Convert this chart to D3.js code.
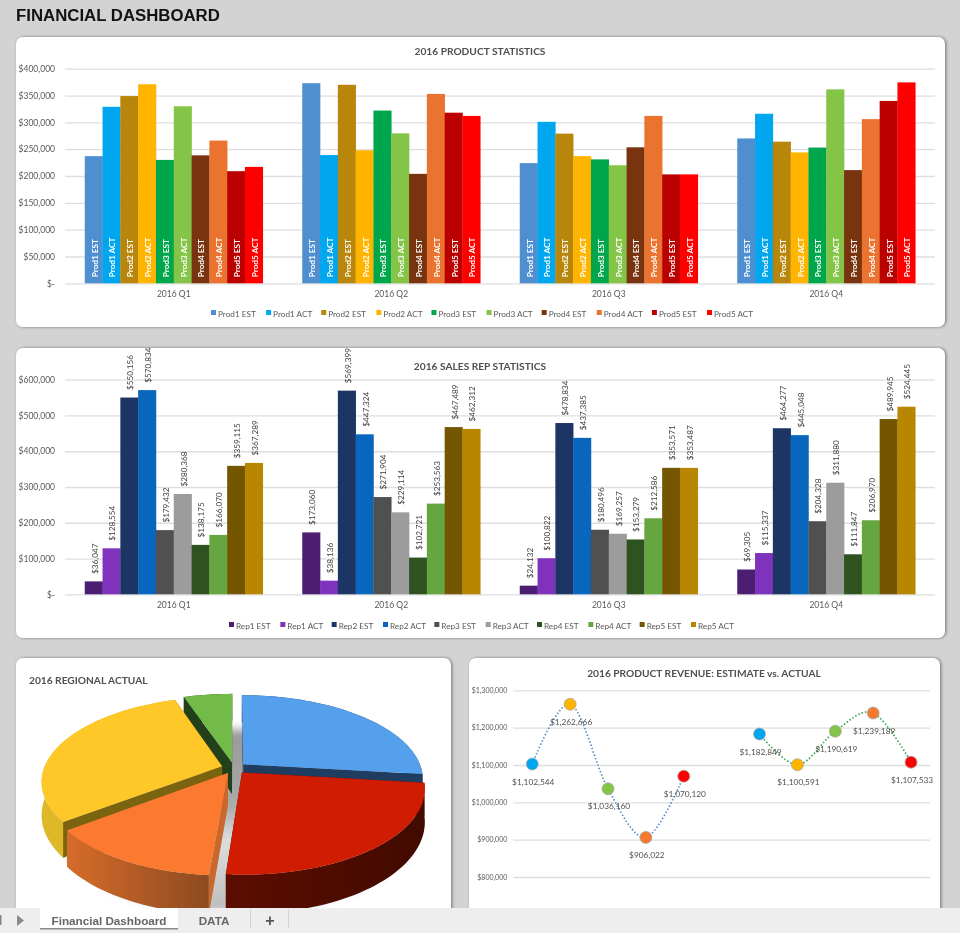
<!DOCTYPE html>
<html>
<head>
<meta charset="utf-8">
<script src="https://cdn.jsdelivr.net/npm/d3@7"></script>
<style>
html,body{margin:0;padding:0;background:#d3d3d3;overflow:hidden}
svg{display:block;filter:blur(.35px)}
text{font-family:Lato,"Open Sans",sans-serif}
.grid line{stroke:#dedede;stroke-width:1.3}
.grid text,.cats text{fill:#595959}
.cats text{font-size:8.5px}
.ttl{font-weight:700;fill:#505050;font-size:10.2px}
</style>
</head>
<body>
<svg id="dash" width="960" height="933"></svg>
<script>
var quarters = ["2016 Q1","2016 Q2","2016 Q3","2016 Q4"]

var prodSeries = ["Prod1 EST","Prod1 ACT","Prod2 EST","Prod2 ACT","Prod3 EST","Prod3 ACT","Prod4 EST","Prod4 ACT","Prod5 EST","Prod5 ACT"]
var prodColors = ["#4f8fd0","#00a6ee","#b8860b","#ffb500","#00a64b","#84c548","#78340f","#ea7330","#bb0000","#ff0000"]
var prodQ1 = [237000,329000,349000,371000,230000,330000,238500,266000,209000,217000]
var prodQ2 = [373000,239000,370000,248000,322000,279500,204000,353000,318000,312000]
var prodQ3 = [224000,301000,279000,237000,231000,220000,253500,312000,203000,203000]
var prodQ4 = [270000,316000,264000,244000,253000,361500,211000,306000,340000,374500]

var repSeries = ["Rep1 EST","Rep1 ACT","Rep2 EST","Rep2 ACT","Rep3 EST","Rep3 ACT","Rep4 EST","Rep4 ACT","Rep5 EST","Rep5 ACT"]
var repColors = ["#4b1e72","#7f33bd","#1c3564","#0866bd","#505050","#9c9c9c","#2f5320","#66a640","#755600","#b88600"]
var repQ1 = [36047,128554,550156,570834,179432,280368,138175,166070,359115,367289]
var repQ2 = [173060,38136,569399,447324,271904,229114,102721,253563,467489,462312]
var repQ3 = [24132,100822,478834,437385,180496,169257,153279,212586,353571,353487]
var repQ4 = [69305,115337,464277,445048,204328,311880,111847,206970,489945,524445]

var regionNames = ["Region 1","Region 2","Region 3","Region 4","Region 5"]
var regionShare = [26.9,24.4,13.3,30.2,5.2]
var regionTop = ["#55a0ec","#d01c00","#fb7a30","#fdc828","#72bb48"]
var regionWall = ["#1f3d60","#4a0c00","#c9682c","#7a6410","#22401a"]
var regionRim = ["#1f3d60","url(#rimRed)","url(#rimOrange)","#dfb828","#22401a"]

var revSlots = ["E1","E2","E3","E4","E5","gap","A1","A2","A3","A4","A5"]
var revEstimate = [1102544,1262666,1036160,906022,1070120]
var revActual = [1182849,1100591,1190619,1239189,1107533]
var revDotColors = ["#00a6ee","#ffb500","#84c548","#f5792f","#ff0000"]

var svg = d3.select("#dash")
var defs = svg.append("defs")

var f = defs.append("filter").attr("id","panelShadow").attr("x","-2%").attr("y","-2%").attr("width","104%").attr("height","104%")
f.append("feDropShadow").attr("dx",1.2).attr("dy",0).attr("stdDeviation",1.4).attr("flood-color","#777")
defs.append("filter").attr("id","pieBlur").attr("x","-10%").attr("y","-10%").attr("width","120%").attr("height","120%")
    .append("feGaussianBlur").attr("stdDeviation",4)

function rimGradient(id,from,to){
    var g = defs.append("linearGradient").attr("id",id)
    g.append("stop").attr("offset","0%").attr("stop-color",from)
    g.append("stop").attr("offset","100%").attr("stop-color",to)
}
rimGradient("rimRed","#5c0d00","#420a00")
rimGradient("rimOrange","#d66c2a","#8d4a20")

var shade = defs.append("linearGradient").attr("id","pieShade").attr("x1",0).attr("y1",0).attr("x2",0).attr("y2",1)
shade.append("stop").attr("offset","0%").attr("stop-color","#999")
shade.append("stop").attr("offset","42%").attr("stop-color","#aaa")
shade.append("stop").attr("offset","60%").attr("stop-color","#dedede")
shade.append("stop").attr("offset","100%").attr("stop-color","#bbb")

function panel(x,y,w,h){
    svg.append("rect").attr("x",x).attr("y",y).attr("width",w).attr("height",h)
        .attr("rx",7).attr("fill","#fff").attr("filter","url(#panelShadow)")
}

function money(v){
    return v == 0 ? "$-" : d3.format("$,")(v)
}

svg.append("text").attr("x",16).attr("y",21).text("FINANCIAL DASHBOARD")
    .style("font-family","'Liberation Sans',Arial,sans-serif").style("font-weight",700)
    .style("font-size","16.8px").attr("fill","#111")

panel(16,37,929,290)
panel(16,348,929,290)
panel(16,658,435,260)
panel(469,658,471,260)

function barChart(o){
    var left = 65, right = 935
    var y = d3.scaleLinear().domain([0,o.max]).range([o.base,o.top])
    var x0 = d3.scaleBand().domain(quarters).range([left,right]).paddingInner(.1816).paddingOuter(.0908)
    var x1 = d3.scaleBand().domain(o.series).range([0,x0.bandwidth()])

    var grid = svg.append("g").attr("class","grid").attr("transform","translate("+left+",0)")
        .call(d3.axisLeft(y).tickValues(d3.range(0,o.max+1,o.step)).tickSize(-(right-left)).tickPadding(10).tickFormat(money))
    grid.select(".domain").remove()
    grid.selectAll("text").style("font-size","8.5px")

    var cats = svg.append("g").attr("class","cats").attr("transform","translate(0,"+o.base+")")
        .call(d3.axisBottom(x0).tickSize(0).tickPadding(8))
    cats.select(".domain").remove()

    var groups = svg.selectAll(null).data(o.rows).enter().append("g")
        .attr("transform",function(d,i){return "translate("+x0(quarters[i])+",0)"})

    groups.selectAll("rect").data(function(d){return d}).enter().append("rect")
        .attr("x",function(d,i){return x1(o.series[i])})
        .attr("y",function(d){return y(d)})
        .attr("width",x1.bandwidth()+.3)
        .attr("height",function(d){return o.base-y(d)})
        .attr("fill",function(d,i){return o.colors[i]})

    if(o.inner){
        groups.selectAll("text").data(o.series).enter().append("text")
            .attr("transform",function(d){return "translate("+(x1(d)+x1.bandwidth()/2+4)+","+(o.base-6)+") rotate(-90)"})
            .attr("fill","#fff").style("font-size","8.2px").style("font-weight",700).text(function(d){return d})
    }else{
        groups.selectAll("text").data(function(d){return d}).enter().append("text")
            .attr("transform",function(d,i){return "translate("+(x1(o.series[i])+x1.bandwidth()/2+4)+","+(y(d)-7.5)+") rotate(-90)"})
            .attr("fill","#404040").style("font-size","8.2px").text(money)
    }

    svg.append("text").attr("class","ttl").attr("x",480).attr("y",o.titleY).attr("text-anchor","middle").text(o.title)

    var lx = d3.scalePoint().domain(o.series).range(o.legend)
    var leg = svg.selectAll(null).data(o.series).enter().append("g")
        .attr("transform",function(d){return "translate("+lx(d)+","+o.legendY+")"})
    leg.append("rect").attr("y",-5).attr("width",5).attr("height",5).attr("fill",function(d,i){return o.colors[i]})
    leg.append("text").attr("x",7).attr("y",1.5).attr("fill","#595959").style("font-size","8.2px").text(function(d){return d})
}

barChart({series:prodSeries,colors:prodColors,rows:[prodQ1,prodQ2,prodQ3,prodQ4],max:400000,step:50000,
    base:283.3,top:68.7,inner:true,title:"2016 PRODUCT STATISTICS",titleY:55,legend:[211,707],legendY:315})
barChart({series:repSeries,colors:repColors,rows:[repQ1,repQ2,repQ3,repQ4],max:600000,step:100000,
    base:594.3,top:379.7,inner:false,title:"2016 SALES REP STATISTICS",titleY:370,legend:[229,691],legendY:627})

// pie, tilted disk with perspective
var pieX = 234, pieY = 768, pieRx = 178, pieRy = 82.4, persp = .176, pieDepth = 32, explode = .07

function project(u,v,z){
    var k = 1/(1+persp*v)
    return [pieX+pieRx*u*k, pieY-pieRy*v*k+z*k]
}
var toPath = d3.line()
var slices = d3.pie().sort(null)(regionShare)

function rimPoints(s,z){
    var m = (s.startAngle+s.endAngle)/2
    var n = Math.ceil((s.endAngle-s.startAngle)*30)
    return d3.range(n+1).map(function(i){
        var a = s.startAngle+(s.endAngle-s.startAngle)*i/n
        return project(Math.sin(a)+explode*Math.sin(m),Math.cos(a)+explode*Math.cos(m),z)
    })
}
function apex(s,z){
    var m = (s.startAngle+s.endAngle)/2
    return project(explode*Math.sin(m),explode*Math.cos(m),z)
}

var disk = d3.range(0,6.3,.05).map(function(a){return project(Math.sin(a),Math.cos(a),pieDepth+5)})
svg.append("path").attr("d",toPath(disk)+"Z").attr("fill","url(#pieShade)").attr("filter","url(#pieBlur)")

// back slices first, so the near ones cover them
var pieOrder = [4,0,3,2,1]
pieOrder.forEach(function(i){
    var s = slices[i]
    var top = rimPoints(s,0), low = rimPoints(s,pieDepth)
    var g = svg.append("g").attr("class","slice").attr("data-region",regionNames[i])
    var a0 = apex(s,0), a1 = apex(s,pieDepth)
    g.append("path").attr("d",toPath([a0,top[0],low[0],a1])+"Z").attr("fill",regionWall[i])
    g.append("path").attr("d",toPath([a0,top[top.length-1],low[low.length-1],a1])+"Z").attr("fill",regionWall[i])
    g.append("path").attr("d",toPath(top.concat(low.slice().reverse()))+"Z").attr("fill",regionRim[i])
    g.append("path").attr("d",toPath([a0].concat(top))+"Z").attr("fill",regionTop[i])
})
svg.append("text").attr("class","ttl").attr("x",29).attr("y",684).text("2016 REGIONAL ACTUAL")

// revenue lines
var revX = d3.scaleBand().domain(revSlots).range([513.3,930])
var revY = d3.scaleLinear().domain([800000,1300000]).range([877,690.3])
var revGrid = svg.append("g").attr("class","grid").attr("transform","translate(513.3,0)")
    .call(d3.axisLeft(revY).ticks(5).tickSize(-416.7).tickPadding(6).tickFormat(d3.format("$,")))
revGrid.select(".domain").remove()
revGrid.selectAll("text").style("font-size","7px")

svg.append("text").attr("class","ttl").attr("x",704).attr("y",677).attr("text-anchor","middle").text("2016 PRODUCT REVENUE: ESTIMATE vs. ACTUAL")

function revLine(values,slots,color){
    var px = function(i){return revX(slots[i])+revX.bandwidth()/2}
    var line = d3.line().x(function(d,i){return px(i)}).y(function(d){return revY(d)}).curve(d3.curveCatmullRom.alpha(0))
    svg.append("path").attr("d",line(values)).attr("fill","none").attr("stroke",color)
        .attr("stroke-width",1.7).attr("stroke-dasharray","1.5 2")
    values.forEach(function(v,i){
        svg.append("text").attr("x",px(i)+1).attr("y",revY(v)+20.5).attr("text-anchor","middle")
            .attr("fill","#505050").style("font-size","8.3px").text(d3.format("$,")(v))
    })
    values.forEach(function(v,i){
        svg.append("circle").attr("cx",px(i)).attr("cy",revY(v)).attr("r",6)
            .attr("fill",revDotColors[i]).attr("stroke","#a9a9a9").attr("stroke-width",.8)
    })
}
revLine(revEstimate,revSlots.slice(0,5),"#5b8fc9")
revLine(revActual,revSlots.slice(6),"#3aa655")

// sheet tabs
svg.append("rect").attr("y",908).attr("width",960).attr("height",25).attr("fill","#eeeeee")
svg.append("rect").attr("x",0).attr("y",915).attr("width",1.5).attr("height",10).attr("fill","#888")
svg.append("path").attr("d",d3.line()([[17,915],[24,920.5],[17,926]])+"Z").attr("fill","#8a8a8a")
svg.append("rect").attr("x",40).attr("y",908).attr("width",138).attr("height",20).attr("fill","#fff")
svg.append("rect").attr("x",40).attr("y",928).attr("width",138).attr("height",1.5).attr("fill","#8a8a8a")
svg.append("rect").attr("x",250).attr("y",909).attr("width",.8).attr("height",19).attr("fill","#ccc")
svg.append("rect").attr("x",288).attr("y",909).attr("width",.8).attr("height",19).attr("fill","#ccc")
var tabs = svg.append("g").style("font-family","'Liberation Sans',Arial,sans-serif")
tabs.append("text").attr("x",109).attr("y",925).attr("text-anchor","middle").attr("fill","#666")
    .style("font-family","inherit").style("font-weight",700).style("font-size","11.7px").text("Financial Dashboard")
tabs.append("text").attr("x",214).attr("y",925).attr("text-anchor","middle").attr("fill","#666")
    .style("font-family","inherit").style("font-weight",700).style("font-size","11.7px").text("DATA")
tabs.append("text").attr("x",270).attr("y",926).attr("text-anchor","middle").attr("fill","#555")
    .style("font-family","inherit").style("font-weight",700).style("font-size","16px").text("+")
</script>
</body>
</html>
